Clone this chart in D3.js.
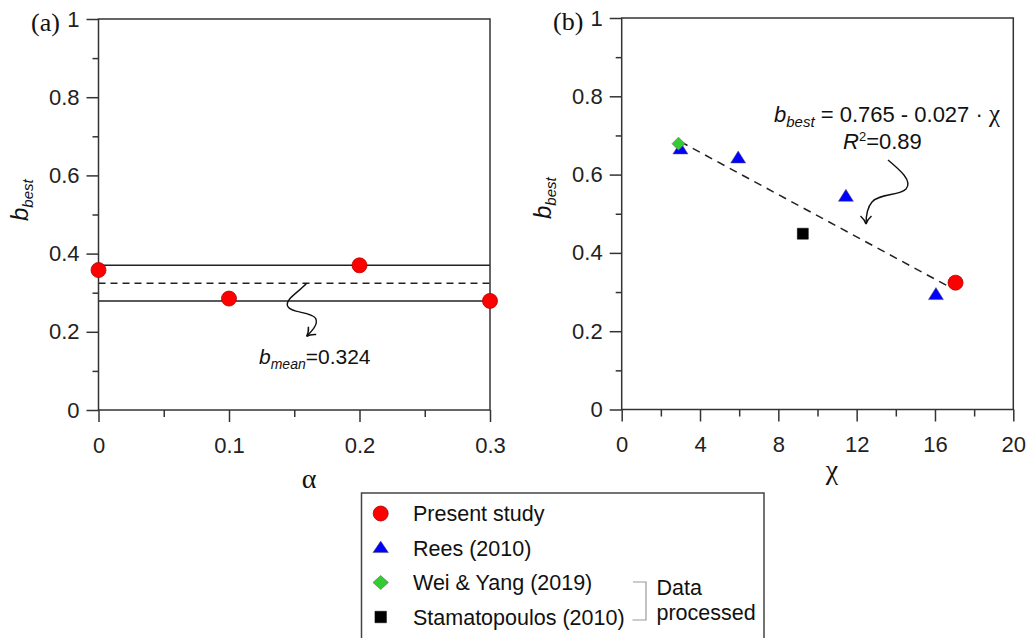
<!DOCTYPE html>
<html>
<head>
<meta charset="utf-8">
<script src="https://cdn.jsdelivr.net/npm/d3@7/dist/d3.min.js"></script>
<style>
  html, body { margin: 0; padding: 0; background: #fff; }
  svg { display: block; }
  .tick text { font-family: "Liberation Sans", Arial, sans-serif; font-size: 22px; fill: #222; }
  .tick line { stroke: #333; stroke-width: 1.5; }
</style>
</head>
<body>
<svg id="chart" width="1027" height="638"></svg>
<script>
// ---- Panel (a): b_best against alpha ----
const alphaValues = [0, 0.1, 0.2, 0.3];
const bBestAlpha = [0.358, 0.285, 0.370, 0.279];
const bMean = 0.324;
const alphaMajorTicks = [0, 0.1, 0.2, 0.3];
const alphaMinorTicks = [0.05, 0.15, 0.25];

// ---- Panel (b): b_best against chi ----
const presentChi = [17.05];
const presentB = [0.324];
const reesChi = [3.0, 5.95, 11.45, 16.05];
const reesB = [0.665, 0.642, 0.544, 0.293];
const weiChi = [2.9];
const weiB = [0.679];
const stamChi = [9.25];
const stamB = [0.449];
const fitIntercept = 0.765;
const fitSlope = -0.027;
const fitChiRange = [3.0, 16.7];
const chiMajorTicks = [0, 4, 8, 12, 16, 20];
const chiMinorTicks = [2, 6, 10, 14, 18];

// shared b_best axis ticks
const bMajorTicks = [0, 0.2, 0.4, 0.6, 0.8, 1];
const bMinorTicks = [0.1, 0.3, 0.5, 0.7, 0.9];
const bTickLabels = ["0", "0.2", "0.4", "0.6", "0.8", "1"];

// legend entries
const legendLabels = ["Present study", "Rees (2010)", "Wei & Yang (2019)", "Stamatopoulos (2010)"];

const svg = d3.select("#chart");
const SANS = "'Liberation Sans', Arial, sans-serif";
const SERIF = "'Liberation Serif', 'Times New Roman', serif";

// marker shapes
const shapes = {
  circle: r => `M${-r},0A${r},${r} 0 1,0 ${r},0A${r},${r} 0 1,0 ${-r},0Z`,
  triangle: (w, h) => `M0,${-h * 0.6}L${w / 2},${h * 0.4}L${-w / 2},${h * 0.4}Z`,
  diamond: (w, h) => `M0,${-h / 2}L${w / 2},0L0,${h / 2}L${-w / 2},0Z`,
  square: s => `M${-s / 2},${-s / 2}h${s}v${s}h${-s}Z`
};
const styles = {
  present: { fill: "#ff0000", stroke: "#b00000", sw: 0.8 },
  rees: { fill: "#0000ff", stroke: "#555", sw: 0.5 },
  wei: { fill: "#33cc33", stroke: "#555", sw: 0.5 },
  stam: { fill: "#000", stroke: "#000", sw: 0.5 }
};

// open arrowhead
svg.append("defs").append("marker")
  .attr("id", "arrowHead")
  .attr("markerUnits", "userSpaceOnUse")
  .attr("viewBox", "-10 -8 12 16")
  .attr("refX", 0).attr("refY", 0)
  .attr("markerWidth", 12).attr("markerHeight", 16)
  .attr("orient", "auto")
  .append("path")
  .attr("d", "M-8,-5.5Q-4,-1 0,0Q-4,1 -8,5.5")
  .attr("fill", "none").attr("stroke", "#111").attr("stroke-width", 1.5);

function drawAxes(g, x, y, xMajor, xMinor, xFormat) {
  const [x0, x1] = x.range();
  const [yb, yt] = y.range();
  // minor ticks
  g.append("g").attr("transform", `translate(0,${yb})`)
    .call(d3.axisBottom(x).tickValues(xMinor).tickSize(7).tickFormat(""))
    .call(a => a.select(".domain").remove());
  g.append("g").attr("transform", `translate(${x0},0)`)
    .call(d3.axisLeft(y).tickValues(bMinorTicks).tickSize(6).tickFormat(""))
    .call(a => a.select(".domain").remove());
  // major ticks and labels
  g.append("g").attr("transform", `translate(0,${yb})`)
    .call(d3.axisBottom(x).tickValues(xMajor).tickSize(12).tickPadding(15).tickFormat(xFormat))
    .call(a => a.select(".domain").remove());
  g.append("g").attr("transform", `translate(${x0},0)`)
    .call(d3.axisLeft(y).tickValues(bMajorTicks).tickSize(12).tickPadding(7)
      .tickFormat((d, i) => bTickLabels[i]))
    .call(a => a.select(".domain").remove());
  // frame
  g.append("rect")
    .attr("x", x0).attr("y", yt).attr("width", x1 - x0).attr("height", yb - yt)
    .attr("fill", "none").attr("stroke", "#333").attr("stroke-width", 1.5);
}

function yLabel(g, tx, ty) {
  const t = g.append("text")
    .attr("transform", `translate(${tx},${ty}) rotate(-90)`)
    .attr("font-family", SANS).attr("fill", "#111");
  t.append("tspan").attr("font-size", 24).attr("font-style", "italic").text("b");
  t.append("tspan").attr("font-size", 15).attr("font-style", "italic").attr("dy", 5).text("best");
}

// ================= Panel (a) =================
const ga = svg.append("g");
const xa = d3.scaleLinear().domain([0, 0.3]).range([98.5, 490]);
const ya = d3.scaleLinear().domain([0, 1]).range([410, 19]);

const bMax = d3.max(bBestAlpha), bMin = d3.min(bBestAlpha);
// envelope lines and mean
ga.selectAll("line.env").data([bMax, bMin]).join("line")
  .attr("class", "env")
  .attr("x1", xa(0)).attr("x2", xa(0.3))
  .attr("y1", d => ya(d)).attr("y2", d => ya(d))
  .attr("stroke", "#222").attr("stroke-width", 1.5);
ga.append("line")
  .attr("x1", xa(0)).attr("x2", xa(0.3))
  .attr("y1", ya(bMean)).attr("y2", ya(bMean))
  .attr("stroke", "#222").attr("stroke-width", 1.5)
  .attr("stroke-dasharray", "7,5");

drawAxes(ga, xa, ya, alphaMajorTicks, alphaMinorTicks, d => d3.format("")(d));

ga.selectAll("path.pt").data(alphaValues).join("path")
  .attr("class", "pt")
  .attr("transform", (d, i) => `translate(${xa(d)},${ya(bBestAlpha[i])})`)
  .attr("d", shapes.circle(7.5))
  .attr("fill", styles.present.fill).attr("stroke", styles.present.stroke)
  .attr("stroke-width", styles.present.sw);

// curly pointer to the mean line
{
  const sx = xa(0.1595), sy = ya(bMean);
  ga.append("path")
    .attr("d", `M${sx},${sy}C${sx - 8},${sy + 9} ${sx - 22},${sy + 16} ${sx - 19},${sy + 23}` +
      `C${sx - 16},${sy + 30} ${sx + 4},${sy + 28} ${sx + 9},${sy + 35}` +
      `C${sx + 12},${sy + 41} ${sx + 5},${sy + 48} ${sx},${sy + 53}`)
    .attr("fill", "none").attr("stroke", "#111").attr("stroke-width", 1.4)
    .attr("marker-end", "url(#arrowHead)");
}
{
  const t = ga.append("text").attr("x", 259).attr("y", 364)
    .attr("font-family", SANS).attr("fill", "#111");
  t.append("tspan").attr("font-size", 21).attr("font-style", "italic").text("b");
  t.append("tspan").attr("font-size", 14).attr("font-style", "italic").attr("dy", 5).text("mean");
  t.append("tspan").attr("font-size", 21).attr("dy", -5).text("=" + bMean);
}
ga.append("text").attr("x", 31).attr("y", 31)
  .attr("font-family", SERIF).attr("font-size", 26).attr("fill", "#111").text("(a)");
ga.append("text").attr("x", 309).attr("y", 488).attr("text-anchor", "middle")
  .attr("font-family", SERIF).attr("font-size", 28).attr("fill", "#111").text("α");
yLabel(ga, 28, 221);

// ================= Panel (b) =================
const gb = svg.append("g");
const xb = d3.scaleLinear().domain([0, 20]).range([621.7, 1013.3]);
const yb = d3.scaleLinear().domain([0, 1]).range([409.5, 18]);

drawAxes(gb, xb, yb, chiMajorTicks, chiMinorTicks, d => String(d));

// linear fit
gb.append("line")
  .attr("x1", xb(fitChiRange[0])).attr("y1", yb(fitIntercept + fitSlope * fitChiRange[0]))
  .attr("x2", xb(fitChiRange[1])).attr("y2", yb(fitIntercept + fitSlope * fitChiRange[1]))
  .attr("stroke", "#222").attr("stroke-width", 1.5).attr("stroke-dasharray", "8,6");

function scatter(g, xs, ys, d, st) {
  g.append("g").selectAll("path").data(xs).join("path")
    .attr("transform", (v, i) => `translate(${xb(v)},${yb(ys[i])})`)
    .attr("d", d)
    .attr("fill", st.fill).attr("stroke", st.stroke).attr("stroke-width", st.sw);
}
scatter(gb, reesChi, reesB, shapes.triangle(15, 12), styles.rees);
scatter(gb, stamChi, stamB, shapes.square(11), styles.stam);
scatter(gb, weiChi, weiB, shapes.diamond(13, 13), styles.wei);
scatter(gb, presentChi, presentB, shapes.circle(7.5), styles.present);

// fit equation
{
  const t = gb.append("text").attr("x", 774).attr("y", 122)
    .attr("font-family", SANS).attr("fill", "#111");
  t.append("tspan").attr("font-size", 22).attr("font-style", "italic").text("b");
  t.append("tspan").attr("font-size", 15).attr("font-style", "italic").attr("dy", 5).text("best");
  t.append("tspan").attr("font-size", 22).attr("dy", -5)
    .text(` = ${fitIntercept} - ${Math.abs(fitSlope)} · `);
  t.append("tspan").attr("font-size", 25).attr("font-family", SERIF).text("χ");

  const r = gb.append("text").attr("x", 843).attr("y", 149)
    .attr("font-family", SANS).attr("fill", "#111");
  r.append("tspan").attr("font-size", 22).attr("font-style", "italic").text("R");
  r.append("tspan").attr("font-size", 13).attr("dy", -8).text("2");
  r.append("tspan").attr("font-size", 22).attr("dy", 8).text("=0.89");
}
gb.append("path")
  .attr("d", "M888,160C900,170 913,181 906,189C899,196 880,193 872,202C866,209 866,218 866,224")
  .attr("fill", "none").attr("stroke", "#111").attr("stroke-width", 1.4)
  .attr("marker-end", "url(#arrowHead)");

gb.append("text").attr("x", 553).attr("y", 30)
  .attr("font-family", SERIF).attr("font-size", 26).attr("fill", "#111").text("(b)");
gb.append("text").attr("x", 832).attr("y", 479).attr("text-anchor", "middle")
  .attr("font-family", SERIF).attr("font-size", 28).attr("fill", "#111").text("χ");
yLabel(gb, 551, 219);

// ================= Legend =================
const lg = svg.append("g");
lg.append("rect").attr("x", 361.5).attr("y", 493).attr("width", 402.5).attr("height", 160)
  .attr("fill", "#fff").attr("stroke", "#444").attr("stroke-width", 1.5);
const legendShapes = [
  [shapes.circle(7.5), styles.present],
  [shapes.triangle(15.5, 11.5), styles.rees],
  [shapes.diamond(15.5, 14), styles.wei],
  [shapes.square(11.5), styles.stam]
];
const rowY = d3.scalePoint().domain(d3.range(legendLabels.length)).range([513.5, 617]);
legendLabels.forEach((lab, i) => {
  const [d, st] = legendShapes[i];
  lg.append("path").attr("transform", `translate(380.7,${rowY(i)})`).attr("d", d)
    .attr("fill", st.fill).attr("stroke", st.stroke).attr("stroke-width", st.sw);
  lg.append("text").attr("x", 413).attr("y", rowY(i) + 7.5)
    .attr("font-family", SANS).attr("font-size", 21.5).attr("fill", "#111").text(lab);
});
lg.append("path").attr("d", "M633,582H646V620H632.5")
  .attr("fill", "none").attr("stroke", "#999").attr("stroke-width", 1.2);
lg.append("text").attr("x", 656.5).attr("y", 595)
  .attr("font-family", SANS).attr("font-size", 21.5).attr("fill", "#111").text("Data");
lg.append("text").attr("x", 656.5).attr("y", 620)
  .attr("font-family", SANS).attr("font-size", 21.5).attr("fill", "#111").text("processed");
</script>
</body>
</html>
